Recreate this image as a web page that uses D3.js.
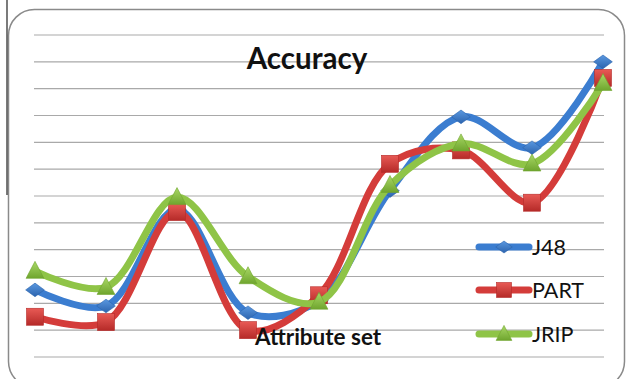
<!DOCTYPE html>
<html>
<head>
<meta charset="utf-8">
<script src="https://cdn.jsdelivr.net/npm/d3@7"></script>
<style>
  html, body { margin: 0; padding: 0; background: #fff; }
  svg { display: block; }
</style>
</head>
<body>
<svg id="chart" width="626" height="379"></svg>
<script>
// Accuracy of three rule/tree learners across nine attribute sets
const categories = ["S1", "S2", "S3", "S4", "S5", "S6", "S7", "S8", "S9"];
const seriesNames = ["J48", "PART", "JRIP"];
const j48Values  = [2.5, 1.9, 5.5, 1.65, 2.1, 6.2, 8.95, 7.8, 11.0];
const partValues = [1.5, 1.3, 5.4, 1.0, 2.3, 7.2, 7.7, 5.75, 10.4];
const jripValues = [3.2, 2.6, 5.95, 3.0, 2.05, 6.4, 7.95, 7.2, 10.2];
const gridTicks = d3.range(0, 13);

const seriesColors = { J48: "#3B7DD0", PART: "#D43C3A", JRIP: "#8FC447" };
const seriesDark   = { J48: "#2C64AE", PART: "#B52A28", JRIP: "#6FA52E" };
const seriesLight  = { J48: "#5A98E0", PART: "#E85A55", JRIP: "#A9D866" };
const seriesData = [
  { name: "J48", values: j48Values, shape: "diamond" },
  { name: "PART", values: partValues, shape: "square" },
  { name: "JRIP", values: jripValues, shape: "triangle" }
];

const svg = d3.select("#chart");
const defs = svg.append("defs");
seriesData.forEach(s => {
  const g = defs.append("linearGradient")
    .attr("id", "grad-" + s.name).attr("x1", 0).attr("y1", 0).attr("x2", 0).attr("y2", 1);
  g.append("stop").attr("offset", "0%").attr("stop-color", seriesLight[s.name]);
  g.append("stop").attr("offset", "100%").attr("stop-color", seriesDark[s.name]);
});

// Frame: rounded chart area and the thin dark rule at the far left
svg.append("rect")
  .attr("x", 8.5).attr("y", 9.5).attr("width", 616).attr("height", 378)
  .attr("rx", 26).attr("ry", 26)
  .attr("fill", "#fff").attr("stroke", "#8a8a8a").attr("stroke-width", 1.5);
svg.append("line")
  .attr("x1", 7).attr("x2", 7).attr("y1", 0).attr("y2", 195)
  .attr("stroke", "#222").attr("stroke-width", 1.2);

const x = d3.scalePoint().domain(categories).range([35, 603]);
const y = d3.scaleLinear().domain([0, 12]).range([357, 35]);

// Horizontal gridlines
svg.append("g").selectAll("line").data(gridTicks).join("line")
  .attr("x1", 34).attr("x2", 604)
  .attr("y1", d => y(d)).attr("y2", d => y(d))
  .attr("stroke", "#a9a9a9").attr("stroke-width", 1.2);

// Title
svg.append("text")
  .attr("x", 307).attr("y", 69)
  .attr("text-anchor", "middle")
  .attr("font-family", "Lato, 'Open Sans', sans-serif")
  .attr("font-weight", "bold").attr("font-size", 29.5)
  .attr("fill", "#111")
  .text("Accuracy");

const line = d3.line()
  .x((d, i) => x(categories[i]))
  .y(d => y(d))
  .curve(d3.curveCatmullRom.alpha(0.5));

function marker(sel, shape, size) {
  const h = size / 2;
  if (shape === "diamond") {
    sel.append("path").attr("d", `M0,${-h * 0.8}L${h * 1.1},0L0,${h * 0.8}L${-h * 1.1},0Z`);
  } else if (shape === "square") {
    sel.append("rect").attr("x", -h).attr("y", -h).attr("width", size).attr("height", size);
  } else {
    sel.append("path").attr("d", `M0,${-h * 1.15}L${h * 1.05},${h * 0.85}L${-h * 1.05},${h * 0.85}Z`);
  }
}

seriesData.forEach(s => {
  const g = svg.append("g");
  g.append("path")
    .attr("d", line(s.values))
    .attr("fill", "none")
    .attr("stroke", seriesColors[s.name])
    .attr("stroke-width", 7)
    .attr("stroke-linecap", "round")
    .attr("stroke-linejoin", "round");
  g.selectAll("g.pt").data(s.values).join("g")
    .attr("class", "pt")
    .attr("transform", (d, i) => `translate(${x(categories[i])},${y(d)})`)
    .each(function () { marker(d3.select(this), s.shape, 17); })
    .selectAll("*")
    .attr("fill", `url(#grad-${s.name})`)
    .attr("stroke", seriesDark[s.name]).attr("stroke-width", 0.6);
});

// Axis title
svg.append("text")
  .attr("x", 255).attr("y", 345)
  .attr("font-family", "Lato, 'Open Sans', sans-serif")
  .attr("font-weight", "bold").attr("font-size", 22.5)
  .attr("fill", "#111")
  .text("Attribute set");

// Legend
const legendY = [247, 290, 334];
const legend = svg.append("g");
seriesData.forEach((s, i) => {
  const g = legend.append("g").attr("transform", `translate(0,${legendY[i]})`);
  g.append("line").attr("x1", 479).attr("x2", 529).attr("y1", 0).attr("y2", 0)
    .attr("stroke", seriesColors[s.name]).attr("stroke-width", 7)
    .attr("stroke-linecap", "round");
  const m = g.append("g").attr("transform", "translate(504,0)");
  marker(m, s.shape, 15);
  m.selectAll("*").attr("fill", `url(#grad-${s.name})`)
    .attr("stroke", seriesDark[s.name]).attr("stroke-width", 0.6);
  g.append("text").attr("x", 532).attr("y", 7.5)
    .attr("font-family", "Lato, 'Open Sans', sans-serif")
    .attr("font-size", 21.5).attr("fill", "#111")
    .text(s.name);
});
</script>
</body>
</html>
